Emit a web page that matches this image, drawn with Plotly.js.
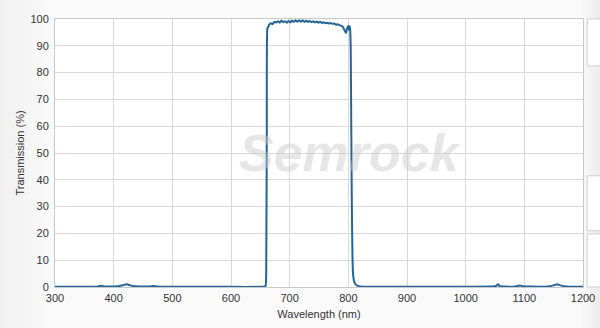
<!DOCTYPE html>
<html>
<head>
<meta charset="utf-8">
<script src="https://cdn.plot.ly/plotly-3.0.1.min.js"></script>
<style>
html,body{margin:0;padding:0;}
body{width:600px;height:328px;background:linear-gradient(to right,#f0f0f0 0px,#fafafa 55px,#fafafa 580px,#ececec 600px);}
#chart{width:600px;height:328px;}
</style>
</head>
<body>
<div id="chart"></div>
<script>
const wavelength = [300,340,370,378,382,386,395,410,418,423,428,435,450,462,468,474,485,500,550,600,650,656,659,660,661,662,664,
665,668,671,674,677,680,683,686,689,692,695,698,701,704,707,710,713,716,719,722,725,728,731,734,737,740,743,746,749,752,755,758,761,764,767,770,773,776,779,782,785,788,791,794,796,798,800,801,802,803,804,805,806,807,808,810,813,818,830,900,1000,1045,1052,1055,1058,1065,1085,1092,1098,1110,1140,1150,1156,1160,1168,1185,1200];
const transmission = [0.1,0.1,0.1,0.5,0.3,0.2,0.2,0.4,0.8,1.0,0.6,0.3,0.2,0.2,0.4,0.2,0.1,0.1,0.05,0.05,0.05,0.1,0.5,5,60,96.5,97.3,
97.8,98.4,98.1,99.0,98.7,99.2,98.6,99.4,98.8,99.2,98.6,99.3,98.7,99.4,98.9,99.5,99.0,99.5,99.0,99.5,98.9,99.4,98.9,99.3,98.8,99.2,98.7,99.1,98.6,99.0,98.5,98.8,98.4,98.6,98.3,98.5,98.2,98.3,97.9,98.0,97.7,97.4,97.0,95.5,94.8,96.5,97.5,96.0,97.3,96.5,90,60,30,12,5,2,0.8,0.3,0.1,0.1,0.1,0.15,0.4,1.0,0.3,0.15,0.2,0.6,0.25,0.15,0.2,0.6,1.0,0.7,0.3,0.1,0.1];
const xTicks = [300,400,500,600,700,800,900,1000,1100,1200];
const yTicks = [0,10,20,30,40,50,60,70,80,90,100];

const trace = {
  x: wavelength, y: transmission, type: 'scatter', mode: 'lines',
  line: {color: '#23649b', width: 2, shape: 'spline', smoothing: 0.4},
  hoverinfo: 'skip'
};

const font = {family: 'Liberation Sans, Arial, sans-serif', size: 11, color: '#333'};

const layout = {
  width: 600, height: 328,
  margin: {l: 55, r: 17, t: 19, b: 41},
  paper_bgcolor: 'rgba(0,0,0,0)',
  plot_bgcolor: '#ffffff',
  font: font,
  showlegend: false,
  xaxis: {
    range: [300, 1200], tickvals: xTicks, ticktext: xTicks.map(String),
    showgrid: true, gridcolor: '#d9d9d9', gridwidth: 1,
    showline: true, linecolor: '#c8c8c8', mirror: true, zeroline: false,
    ticks: '', tickfont: font, ticklabelstandoff: 1,
    title: {text: 'Wavelength (nm)', font: font, standoff: 7}
  },
  yaxis: {
    range: [0, 100], tickvals: yTicks, ticktext: yTicks.map(String),
    showgrid: true, gridcolor: '#d9d9d9', gridwidth: 1,
    showline: true, linecolor: '#c8c8c8', mirror: true, zeroline: false,
    ticks: '', tickfont: font, ticklabelstandoff: 3,
    title: {text: 'Transmission (%)', font: font, standoff: 3}
  },
  annotations: [{
    xref: 'paper', yref: 'paper', x: 0.56, y: 0.5,
    text: '<b><i>Semrock</i></b>', showarrow: false,
    font: {family: 'Liberation Sans, Arial, sans-serif', size: 52, color: 'rgba(200,200,200,0.45)'}
  }],
  shapes: [
    {type: 'rect', xref: 'paper', yref: 'paper', x0: 1.008, x1: 1.04, y0: 0.825, y1: 1.0, fillcolor: '#ffffff', line: {color: '#cfcfcf', width: 1}, layer: 'below'},
    {type: 'rect', xref: 'paper', yref: 'paper', x0: 1.008, x1: 1.04, y0: 0.21, y1: 0.415, fillcolor: '#ffffff', line: {color: '#cfcfcf', width: 1}, layer: 'below'},
    {type: 'rect', xref: 'paper', yref: 'paper', x0: 1.008, x1: 1.04, y0: 0.0, y1: 0.198, fillcolor: '#ffffff', line: {color: '#cfcfcf', width: 1}, layer: 'below'}
  ]
};

Plotly.newPlot('chart', [trace], layout, {displayModeBar: false, staticPlot: true});
</script>
</body>
</html>
